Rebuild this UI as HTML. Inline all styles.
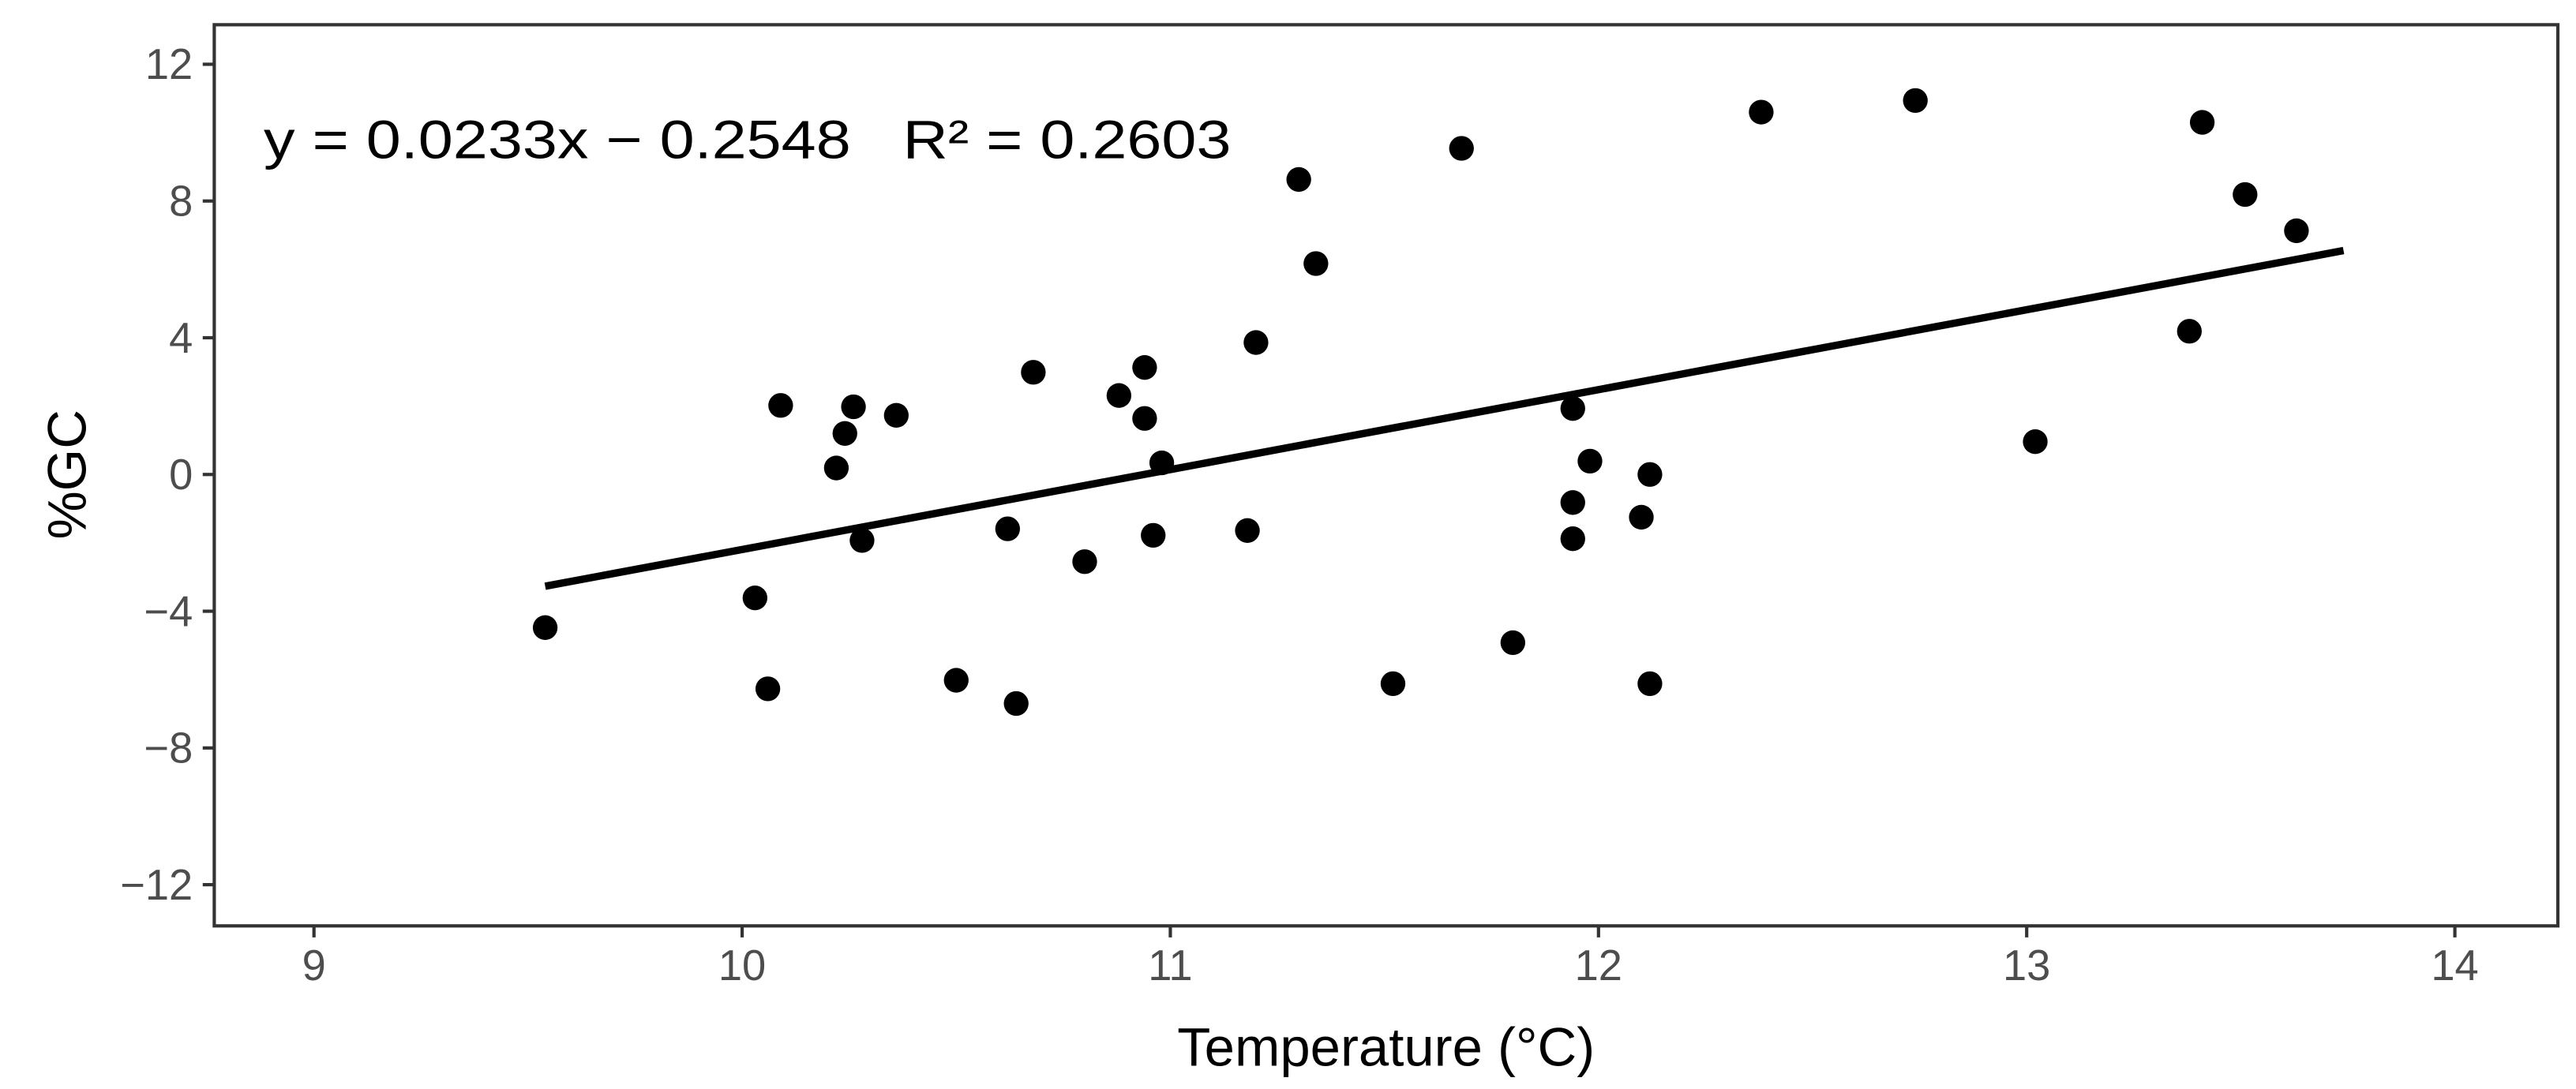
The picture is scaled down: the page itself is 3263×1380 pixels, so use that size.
<!DOCTYPE html>
<html><head><meta charset="utf-8"><style>
html,body{margin:0;padding:0;background:#fff;}
svg{display:block;font-family:"Liberation Sans",Arial,sans-serif;}
</style></head><body>
<svg id="chart" width="3263" height="1380" viewBox="0 0 1563 661" xmlns="http://www.w3.org/2000/svg">
<rect x="0" y="0" width="1563" height="661" fill="#fff"/>
<g id="plot"></g>
</svg>
<script>
const tempValues=[9.54,10.03,10.09,10.06,10.22,10.24,10.26,10.28,10.36,10.50,10.62,10.64,10.68,10.80,10.88,10.94,10.94,10.96,10.98,11.18,11.20,11.30,11.34,11.52,11.68,11.80,11.94,11.94,11.94,11.98,12.10,12.12,12.12,12.38,12.74,13.02,13.38,13.41,13.51,13.63];
const gcValues=[-4.48,-3.61,2.02,-6.27,0.19,1.2,1.98,-1.93,1.73,-6.02,-1.59,-6.70,2.99,-2.55,2.31,3.13,1.64,-1.78,0.34,-1.64,3.86,8.63,6.17,-6.12,9.54,-4.92,1.93,-0.82,-1.88,0.39,-1.25,0.0,-6.12,10.6,10.94,0.96,4.19,10.3,8.19,7.13];
const fitX=[9.54,13.74];
const fitY=[-3.27,6.55];
const xTicks=[9,10,11,12,13,14];
const yTicks=[12,8,4,0,-4,-8,-12];
const yTickLabels=["12","8","4","0","\u22124","\u22128","\u221212"];

const NS="http://www.w3.org/2000/svg";
const g=document.getElementById('plot');
const L=130,R=1552,T=15,B=562;
function sx(v){return 190.5+(v-9)*259.8;}
function sy(v){return 288-v*20.75;}
function mk(tag,attrs,parent){const e=document.createElementNS(NS,tag);for(const k in attrs)e.setAttribute(k,attrs[k]);(parent||g).appendChild(e);return e;}

yTicks.forEach((v,i)=>{
  const t=mk('line',{x1:L-7,x2:L,y1:sy(v),y2:sy(v),stroke:'#333','stroke-width':2});
  
  
  const lb=mk('text',{x:L-13,y:sy(v)+9,'text-anchor':'end','font-size':26,fill:'#4d4d4d'});
  lb.textContent=yTickLabels[i];
  
  
});
xTicks.forEach(v=>{
  const t=mk('line',{x1:sx(v),x2:sx(v),y1:B,y2:B+7,stroke:'#333','stroke-width':2});
  
  
  const lb=mk('text',{x:sx(v),y:B+33,'text-anchor':'middle','font-size':26,fill:'#4d4d4d'});
  lb.textContent=String(v);
  
  
});

const panel=mk('rect',{x:L,y:T,width:R-L,height:B-T,fill:'none',stroke:'#333','stroke-width':2});



tempValues.forEach((x,i)=>{
  const c=mk('circle',{cx:sx(x),cy:sy(gcValues[i]),r:7.5,fill:'#000'});
  
  
});

const ln=mk('line',{x1:sx(fitX[0]),y1:sy(fitY[0]),x2:sx(fitX[1]),y2:sy(fitY[1]),stroke:'#000','stroke-width':4.5});



const eq=mk('text',{x:160,y:96,'font-size':33,fill:'#000',textLength:587,lengthAdjust:'spacingAndGlyphs'});
eq.setAttributeNS('http://www.w3.org/XML/1998/namespace','xml:space','preserve');
eq.style.whiteSpace='pre';
eq.textContent='y = 0.0233x \u2212 0.2548   R\u00b2 = 0.2603';



const xt=mk('text',{x:841,y:647,'text-anchor':'middle','font-size':33,fill:'#000'});
xt.textContent='Temperature (\u00b0C)';


const yt=mk('text',{x:0,y:0,'text-anchor':'middle','font-size':33,fill:'#000',transform:'translate(52,288) rotate(-90)'});
yt.textContent='%GC';


</script>
</body></html>
